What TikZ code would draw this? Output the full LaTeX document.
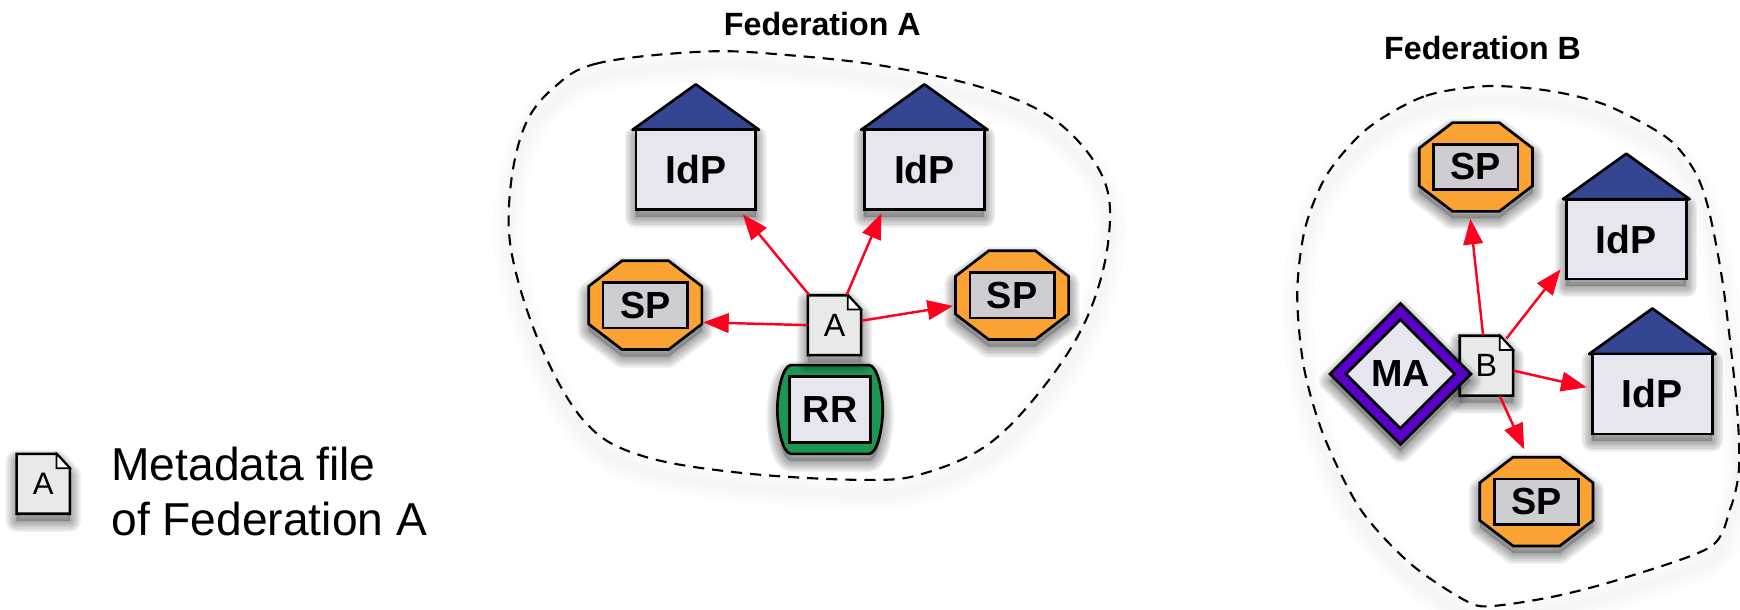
\documentclass[tikz,border=0pt]{standalone}
\usepackage{fontspec}
\setmainfont{Liberation Sans}
\usetikzlibrary{arrows.meta,calc}
\definecolor{roofblue}{RGB}{52,70,145}
\definecolor{paleblue}{RGB}{229,230,238}
\definecolor{sporange}{RGB}{250,163,50}
\definecolor{spgray}{RGB}{205,205,210}
\definecolor{rrgreen}{RGB}{28,150,80}
\definecolor{mapurple}{RGB}{90,0,200}
\definecolor{docgray}{RGB}{232,234,232}
\definecolor{arrowred}{RGB}{255,0,30}
\tikzset{
  x=0.5pt,y=-0.5pt,
  outline/.style={draw=black,line width=1.2pt,line join=miter},
  labelbox/.style={outline,inner sep=0pt,font=\fontsize{17}{20}\selectfont\bfseries},
  idpbox/.style={labelbox,fill=paleblue,minimum width=54pt,minimum height=36pt,font=\fontsize{17.6}{20}\selectfont\bfseries},
  spbox/.style={labelbox,fill=spgray,minimum width=38pt,minimum height=20.5pt},
  rrbox/.style={labelbox,fill=paleblue,minimum width=36.5pt,minimum height=30pt},
  docnode/.style={inner sep=0pt,minimum width=24pt,minimum height=27pt,font=\fontsize{14.5}{17}\selectfont},
  flow/.style={draw=arrowred,line width=1.1pt,-{Triangle[length=11.5pt,width=8.8pt]}},
  boundary/.style={draw=black,line width=0.95pt,dash pattern=on 5pt off 3.6pt},
  title/.style={font=\fontsize{14.5}{17}\selectfont\bfseries,inner sep=0pt},
}
\newcommand{\softshade}[1]{%
  \begin{scope}[yshift=-3.2pt]
    \foreach \w in {10,8.5,7,5.5,4,2.5,1}{\path[draw=black,draw opacity=0.055,line width=\w pt,line join=round] #1;}
    \path[fill=black,fill opacity=0.2] #1;
  \end{scope}}
\newcommand{\idpshape}[3]{\begin{scope}[shift={(#2,#3)}]
  \softshade{(-54,-36)--(54,-36)--(54,36)--(-54,36)--cycle}
  \path[outline,fill=roofblue,line join=round] (-57,-36)--(0,-77)--(57,-36)--cycle;
  \node[idpbox] (#1) at (0,0) {IdP};
\end{scope}}
\newcommand{\spshape}[3]{\begin{scope}[shift={(#2,#3)}]
  \def\octa{(-21,-40)--(21,-40)--(51,-17)--(51,17)--(21,40)--(-21,40)--(-51,17)--(-51,-17)--cycle}
  \softshade{\octa}
  \path[outline,fill=sporange] \octa;
  \node[spbox] (#1) at (0,0) {SP};
\end{scope}}
\newcommand{\docshape}[5]{\begin{scope}[shift={(#2,#3)}]
  \def\sheet{(-24,-27)--(12,-27)--(24,-14)--(24,27)--(-24,27)--cycle}
  \softshade{\sheet}
  \path[outline,fill=docgray] \sheet;
  \path[draw=black,line width=0.8pt,fill=white] (12,-27)--(12,-14)--(24,-14)--cycle;
  \node[docnode,#5] (#1) at (0,0) {#4};
\end{scope}}
\begin{document}
\begin{tikzpicture}
\useasboundingbox (0,0) rectangle (1568,549.7);
\fill[white] (0,0) rectangle (1568,549.7);

% federation boundaries
\def\blobA{plot[smooth cycle,tension=0.6] coordinates {(634.5,46.5) (538.8,57) (498.4,79.6) (472.7,114) (459.8,171) (461.6,231) (487.4,312) (527.8,381) (579.3,411) (671.2,426.5) (781.5,432.5) (833,426.5) (891.8,399.5) (943.3,345) (980.1,285) (998.5,219) (994.8,162) (954.3,111) (891.8,81) (799.9,60) (708,49.5)}}
\def\blobB{plot[smooth cycle,tension=0.5] coordinates {(1340,77.6) (1283,87) (1232,116) (1196,157) (1176,206) (1169,265) (1175,331) (1193,393) (1226,459) (1271,508) (1322,542) (1346,546) (1403,537) (1463,521) (1541,493) (1559,459) (1567,423) (1565,364) (1553,259) (1540,190) (1527,154) (1502,124) (1448,95) (1397,82)}}
\begin{scope}[yshift=-6pt]
\foreach \w in {14,9,4}{\path[draw=black,draw opacity=0.01,line width=\w pt] \blobA;\path[draw=black,draw opacity=0.01,line width=\w pt] \blobB;}
\end{scope}
\path[boundary] \blobA;
\path[boundary] \blobB;

\node[title] (titleA) at (741,22) {Federation A};
\node[title] (titleB) at (1336,43) {Federation B};

% Federation A
\idpshape{idpA}{627}{153}
\idpshape{idpB}{833}{153}
\spshape{spA}{581.5}{275}
\spshape{spB}{912}{266}
\begin{scope}[shift={(748,369)}]
  \def\rrshape{(-35,-40)--(35,-40) .. controls (43,-40) and (47.5,-15) .. (47.5,0) .. controls (47.5,15) and (43,40) .. (35,40) -- (-35,40) .. controls (-43,40) and (-47.5,15) .. (-47.5,0) .. controls (-47.5,-15) and (-43,-40) .. (-35,-40) -- cycle}
  \softshade{\rrshape}
  \path[outline,fill=rrgreen] \rrshape;
  \node[rrbox] (rr) at (0,0) {RR};
\end{scope}
\docshape{docA}{752}{293}{A}{}

% Federation B
\idpshape{idpC}{1465.5}{215.5}
\idpshape{idpD}{1489}{355}
\spshape{spC}{1330}{150.5}
\spshape{spD}{1384.5}{452}
\docshape{docB}{1339.5}{329.5}{B}{}
\begin{scope}[shift={(1262,337)}]
  \softshade{(0,-63.5)--(63.5,0)--(0,63.5)--(-63.5,0)--cycle}
  \path[outline,fill=mapurple] (0,-63.5)--(63.5,0)--(0,63.5)--(-63.5,0)--cycle;
  \path[outline,fill=paleblue] (0,-49)--(49,0)--(0,49)--(-49,0)--cycle;
  \node[inner sep=0pt,font=\fontsize{17}{20}\selectfont\bfseries] (ma) at (0,0) {MA};
\end{scope}

% connectors
\draw[flow] ($(docA.north)+(-23,0)$) -- ($(idpA.south)+(42.4,3)$);
\draw[flow] ($(docA.north)+(11,0)$) -- ($(idpB.south)+(-38.6,2)$);
\draw[flow] ($(docA.west)+(0,0)$) -- ($(spA.east)+(13,15.5)$);
\draw[flow] ($(docA.east)+(0,-4)$) -- ($(spB.west)+(-14,9.7)$);
\draw[flow] ($(docB.north)+(-3,0)$) -- ($(spC.south)+(-5,25)$);
\draw[flow] ($(docB.north)+(18,3)$) -- ($(idpC.south west)+(-4,-10)$);
\draw[flow] ($(docB.east)+(0,4.5)$) -- ($(idpD.west)+(-4,-6)$);
\draw[flow] ($(docB.south)+(12,0)$) -- ($(spD.north)+(-11,-25.5)$);

% legend
\docshape{legenddoc}{39}{436}{A}{font=\fontsize{14}{16}\selectfont}
\node[anchor=west,inner sep=0pt,align=left,font=\fontsize{20.8}{24.5}\selectfont] (legendtext) at (100,443) {Metadata file\\of Federation A};
\end{tikzpicture}
\end{document}
